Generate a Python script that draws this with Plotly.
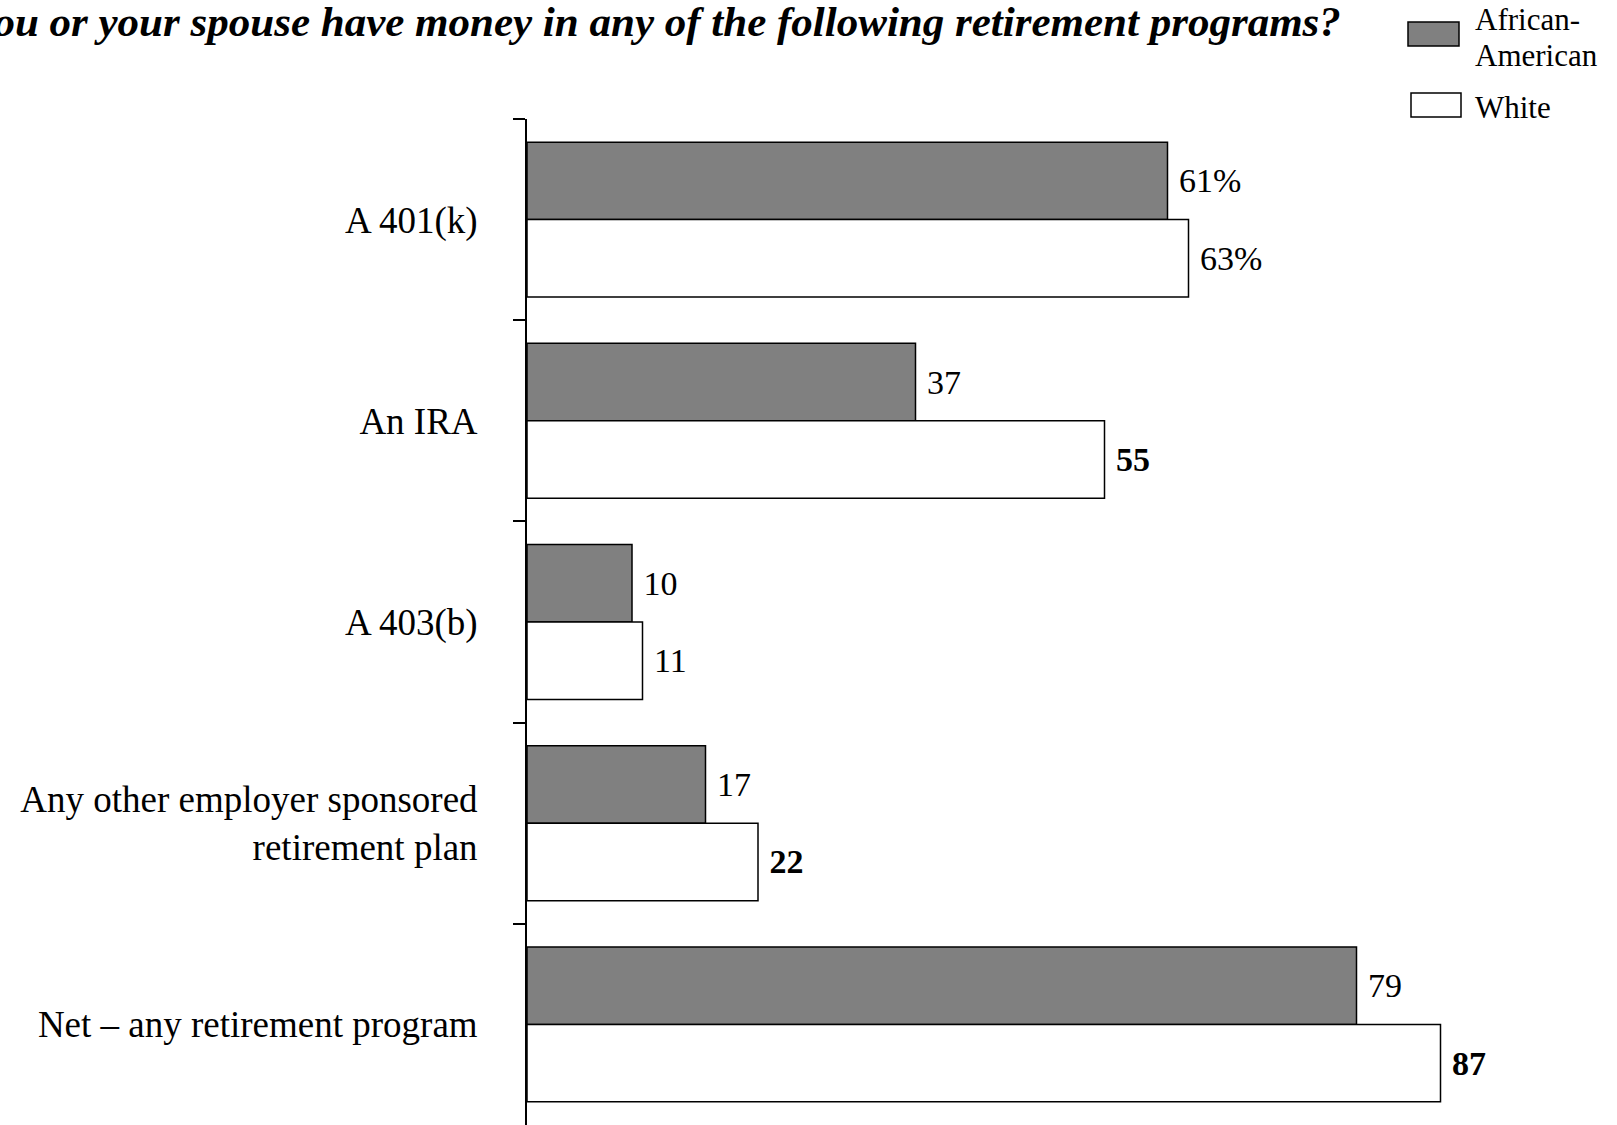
"""
Retirement program ownership: African-American vs White respondents
"""
import plotly.graph_objects as go

# ---- data ----
categories = [
    "A 401(k)",
    "An IRA",
    "A 403(b)",
    "Any other employer sponsored<br>retirement plan",
    "Net \u2013 any retirement program",
]
african_american = [61, 37, 10, 17, 79]
white = [63, 55, 11, 22, 87]
# white values shown in bold (significant difference)
white_bold = [False, True, False, True, True]

title_text = "Do you or your spouse have money in any of the following retirement programs?"

W, H = 1617, 1125
M_L, M_R, M_T, M_B = 527, 40, 119, 0
PLOT_W = W - M_L - M_R
PLOT_H = H - M_T - M_B
FONT = "Liberation Serif, Times New Roman, serif"


def px_x(x):
    return (x - M_L) / PLOT_W


def px_y(y):
    return (H - M_B - y) / PLOT_H


def fmt(v, i, bold=False):
    s = f"{v}%" if i == 0 else str(v)
    if bold:
        s = f"<b>{s}</b>"
    return "\u00a0" + s


aa_text = [fmt(v, i) for i, v in enumerate(african_american)]
wh_text = [fmt(v, i, b) for i, (v, b) in enumerate(zip(white, white_bold))]

fig = go.Figure()

fig.add_trace(go.Bar(
    y=categories,
    x=african_american,
    orientation='h',
    name='African-American',
    marker=dict(color='#808080', line=dict(color='black', width=1.5)),
    text=aa_text,
    textposition='outside',
    textfont=dict(family=FONT, size=34, color='black'),
    cliponaxis=False,
))

fig.add_trace(go.Bar(
    y=categories,
    x=white,
    orientation='h',
    name='White',
    marker=dict(color='white', line=dict(color='black', width=1.5)),
    text=wh_text,
    textposition='outside',
    textfont=dict(family=FONT, size=34, color='black'),
    cliponaxis=False,
))

# title, cut off at the left edge like the source slide
fig.add_annotation(
    text=f"<b><i>{title_text}</i></b>",
    xref="paper", yref="paper",
    x=px_x(1343), y=px_y(22),
    xanchor="right", yanchor="middle",
    showarrow=False,
    font=dict(family=FONT, size=43, color='black'),
)

# hand-drawn legend
fig.add_shape(type="rect", xref="paper", yref="paper",
              x0=px_x(1408), x1=px_x(1459), y0=px_y(46), y1=px_y(22),
              fillcolor='#808080', line=dict(color='black', width=1.5))
fig.add_shape(type="rect", xref="paper", yref="paper",
              x0=px_x(1411), x1=px_x(1461), y0=px_y(117), y1=px_y(93),
              fillcolor='white', line=dict(color='black', width=1.5))
for txt, yc in [("African-", 19), ("American", 55), ("White", 107)]:
    fig.add_annotation(
        text=txt, xref="paper", yref="paper",
        x=px_x(1473), y=px_y(yc),
        xanchor="left", yanchor="middle", showarrow=False,
        font=dict(family=FONT, size=31, color='black'),
    )

fig.update_layout(
    width=W,
    height=H,
    margin=dict(l=M_L, r=M_R, t=M_T, b=M_B, pad=0),
    barmode='group',
    bargap=0.23,
    bargroupgap=0,
    showlegend=False,
    plot_bgcolor='white',
    paper_bgcolor='white',
    font=dict(family=FONT, color='black'),
)

fig.update_xaxes(
    range=[0, 100],
    visible=False,
    showgrid=False,
    zeroline=False,
)

fig.update_yaxes(
    autorange='reversed',
    showline=True,
    linecolor='black',
    linewidth=2,
    ticks='outside',
    tickson='boundaries',
    ticklen=12,
    tickwidth=1.5,
    tickcolor='black',
    ticklabelstandoff=40,
    tickfont=dict(family=FONT, size=37, color='black'),
    showgrid=False,
    zeroline=False,
)

# drop the default 8px page margin so the figure fills the window exactly
fig.write_html(
    "out.html",
    config={'displayModeBar': False},
    post_script="document.body.style.margin='0px';",
)
